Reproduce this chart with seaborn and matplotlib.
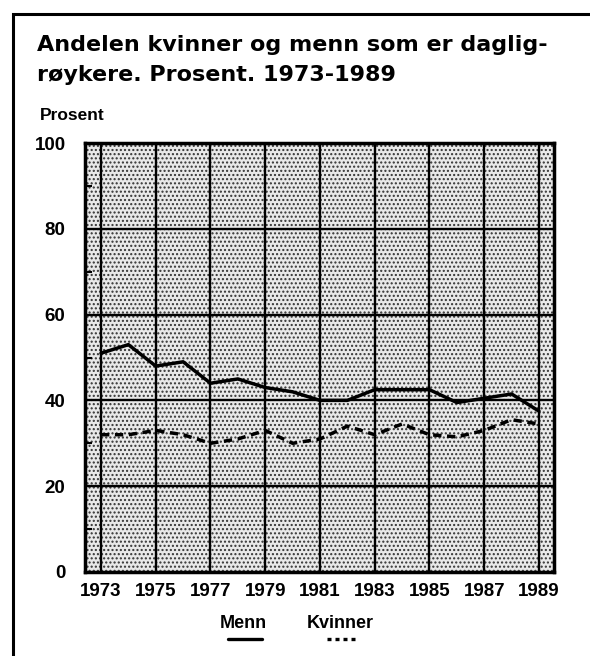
import matplotlib.pyplot as plt
import seaborn as sns
import pandas as pd
from matplotlib.patches import Rectangle
from matplotlib.lines import Line2D

# Data
years = list(range(1973, 1990))
menn = [51, 53, 48, 49, 44, 45, 43, 42, 40, 40, 42.5, 42.5, 42.5, 39.5, 40.5, 41.5, 37.5]
kvinner = [32, 32, 33, 32, 30, 31, 33, 30, 31, 34, 32, 34.5, 32, 31.5, 33, 35.5, 34.5]
year_ticks = list(range(1973, 1990, 2))
y_ticks = [0, 20, 40, 60, 80, 100]

df = pd.DataFrame({"year": years, "Menn": menn, "Kvinner": kvinner})

sns.set_style("white")
plt.rcParams["font.family"] = ["Liberation Sans", "DejaVu Sans"]
plt.rcParams["hatch.linewidth"] = 1.0
for key in ["text.color", "xtick.color", "ytick.color", "axes.labelcolor"]:
    plt.rcParams[key] = "black"

fig = plt.figure(figsize=(5.9, 6.56), dpi=100)

# outer frame of the figure box
fig.patches.append(Rectangle((13 / 590, -0.1), 1.2, 1 - 14 / 656 + 0.1,
                             transform=fig.transFigure, fill=False,
                             edgecolor="black", linewidth=2.2))

title_font = dict(fontsize=16, fontweight="bold", family="DejaVu Sans",
                  va="center", ha="left")
fig.text(37 / 590, 1 - 45 / 656, "Andelen kvinner og menn som er daglig-", **title_font)
fig.text(37 / 590, 1 - 75 / 656, "røykere. Prosent. 1973-1989", **title_font)
fig.text(40 / 590, 1 - 115 / 656, "Prosent", fontsize=12.5, fontweight="bold",
         va="center", ha="left")

ax = fig.add_axes([85 / 590, 1 - 572 / 656, (554 - 85) / 590, (572 - 143) / 656])
ax.set_facecolor("#e9e9e9")
ax.add_patch(Rectangle((0, 0), 1, 1, transform=ax.transAxes, facecolor="none",
                       edgecolor="#333333", hatch="....", linewidth=0, zorder=0))

for y in [20, 40, 60, 80]:
    ax.axhline(y, color="black", linewidth=1.7, zorder=1)
for x in year_ticks:
    ax.axvline(x, color="black", linewidth=1.7, zorder=1)

sns.lineplot(data=df, x="year", y="Menn", ax=ax, color="black", linewidth=2.5, zorder=3)
sns.lineplot(data=df, x="year", y="Kvinner", ax=ax, color="black", linewidth=2.5,
             zorder=3, linestyle=(0, (2.4, 1.6)))

ax.set_xlim(1972.415, 1989.55)
ax.set_ylim(0, 100)
ax.set_xticks(year_ticks)
ax.set_xticklabels([str(y) for y in year_ticks])
ax.set_yticks(y_ticks)
ax.set_yticks([10, 30, 50, 70, 90], minor=True)
ax.tick_params(axis="y", which="minor", direction="in", length=5, width=1.5,
               color="black", left=True)
ax.tick_params(axis="both", which="major", length=0, labelsize=13.5)
for lab in ax.get_xticklabels() + ax.get_yticklabels():
    lab.set_fontweight("bold")
ax.tick_params(axis="x", pad=8)
ax.tick_params(axis="y", pad=14)
ax.set_xlabel("")
ax.set_ylabel("")
for s in ax.spines.values():
    s.set_visible(True)
    s.set_color("black")
    s.set_linewidth(2.5)

# legend drawn as text with line samples below
fig.text(243 / 590, 1 - 624 / 656, "Menn", fontsize=13, fontweight="bold",
         ha="center", va="center")
fig.text(340 / 590, 1 - 624 / 656, "Kvinner", fontsize=13, fontweight="bold",
         ha="center", va="center")
fig.lines.append(Line2D([228 / 590, 262 / 590], [1 - 639 / 656] * 2,
                        transform=fig.transFigure, color="black", linewidth=2.4))
fig.lines.append(Line2D([327 / 590, 359 / 590], [1 - 639 / 656] * 2,
                        transform=fig.transFigure, color="black", linewidth=2.4,
                        linestyle=(0, (1.2, 1.2))))

fig.savefig("out.png", dpi=100)
